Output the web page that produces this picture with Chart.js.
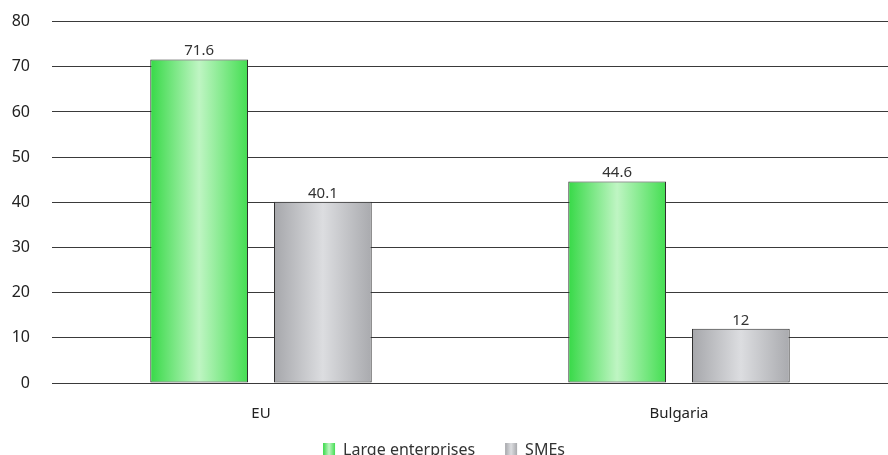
<!DOCTYPE html>
<html>
<head>
<meta charset="utf-8">
<script src="https://cdn.jsdelivr.net/npm/chart.js@4.4.0/dist/chart.umd.min.js"></script>
<style>
  html, body { margin: 0; padding: 0; background: #fff; overflow: hidden; }
  #wrap { width: 888px; height: 455px; overflow: hidden; }
  #myChart { display: block; margin-top: -10px; }
</style>
</head>
<body>
<div id="wrap"><canvas id="myChart" width="888" height="478"></canvas></div>
<script>
var categories = ["EU", "Bulgaria"];
var seriesNames = ["Large enterprises", "SMEs"];
var largeValues = [71.6, 44.6];
var smeValues = [40.1, 12];
var yTicks = [0, 10, 20, 30, 40, 50, 60, 70, 80];

var FONT = "'Noto Sans', 'Open Sans', sans-serif";
var greenStops = ["#37d947", "#bff5c3", "#44de52"];
var grayStops = ["#a6a7ab", "#dcdde0", "#a9aaae"];

function makeGradient(ctx, x0, x1, stops) {
  var g = ctx.createLinearGradient(x0, 0, x1, 0);
  g.addColorStop(0, stops[0]);
  g.addColorStop(0.5, stops[1]);
  g.addColorStop(1, stops[2]);
  return g;
}

// paint each bar with a horizontal gradient based on where the scale put it
var gradientBars = {
  id: "gradientBars",
  beforeDatasetsDraw: function(chart) {
    var ctx = chart.ctx;
    chart.data.datasets.forEach(function(ds, i) {
      var meta = chart.getDatasetMeta(i);
      var stops = i === 0 ? greenStops : grayStops;
      meta.data.forEach(function(el) {
        var p = el.getProps(["x", "width"], true);
        el.options.backgroundColor = makeGradient(ctx, p.x - p.width / 2, p.x + p.width / 2, stops);
      });
    });
  },
  // legend boxes get the same gradient, drawn where the legend put them
  afterDraw: function(chart) {
    var lg = chart.legend;
    if (!lg || !lg.legendHitBoxes) return;
    var ctx = chart.ctx;
    var bw = lg.options.labels.boxWidth, bh = lg.options.labels.boxHeight;
    lg.legendHitBoxes.forEach(function(hb, i) {
      var stops = i === 0 ? greenStops : grayStops;
      var y = hb.top + hb.height / 2 - bh / 2;
      ctx.save();
      ctx.fillStyle = makeGradient(ctx, hb.left, hb.left + bw, stops);
      ctx.fillRect(hb.left, y, bw, bh);
      ctx.restore();
    });
  }
};

// value labels on top of the bars
var valueLabels = {
  id: "valueLabels",
  afterDatasetsDraw: function(chart) {
    var ctx = chart.ctx;
    ctx.save();
    ctx.font = "15px " + FONT;
    ctx.fillStyle = "#333";
    ctx.textAlign = "center";
    ctx.textBaseline = "bottom";
    chart.data.datasets.forEach(function(ds, i) {
      var meta = chart.getDatasetMeta(i);
      meta.data.forEach(function(el, j) {
        ctx.fillText(String(ds.data[j]), el.x, el.y - 1);
      });
    });
    ctx.restore();
  }
};

var ctx = document.getElementById("myChart").getContext("2d");
var chart = new Chart(ctx, {
  type: "bar",
  data: {
    labels: categories,
    datasets: [{
      label: seriesNames[0],
      data: largeValues,
      // scriptable so each bar gets its own options object
      backgroundColor: function() { return greenStops[1]; },
      borderColor: "#2f2f2f",
      borderWidth: 1,
      borderSkipped: false,
      categoryPercentage: 0.592,
      barPercentage: 0.79
    }, {
      label: seriesNames[1],
      data: smeValues,
      backgroundColor: function() { return grayStops[1]; },
      borderColor: "#2f2f2f",
      borderWidth: 1,
      borderSkipped: false,
      categoryPercentage: 0.592,
      barPercentage: 0.79
    }]
  },
  options: {
    responsive: false,
    animation: false,
    layout: { padding: { top: 2, left: 0, right: 0, bottom: 0 } },
    plugins: {
      tooltip: { enabled: false },
      legend: {
        position: "bottom",
        labels: {
          color: "#333",
          font: { size: 16, family: FONT },
          boxWidth: 12,
          boxHeight: 14,
          padding: 5,
          generateLabels: function(chart) {
            return chart.data.datasets.map(function(ds, i) {
              // trailing spaces widen the gap between the two items
              return {
                text: i === 0 ? ds.label + "      " : ds.label,
                fillStyle: "#fff",
                strokeStyle: "rgba(0,0,0,0)",
                lineWidth: 0,
                datasetIndex: i,
                fontColor: "#333"
              };
            });
          }
        }
      }
    },
    scales: {
      x: {
        grid: { display: false },
        border: { display: false },
        ticks: { color: "#222", font: { size: 15, family: FONT }, padding: 14 }
      },
      y: {
        min: 0,
        max: 80,
        afterBuildTicks: function(axis) {
          axis.ticks = yTicks.map(function(v) { return { value: v }; });
        },
        afterFit: function(axis) { axis.width = 52; },
        grid: { color: "#3a3a3a", lineWidth: 1, drawTicks: false },
        border: { display: false },
        ticks: { color: "#222", font: { size: 16, family: FONT }, padding: 22 }
      }
    }
  },
  plugins: [gradientBars, valueLabels]
});
</script>
</body>
</html>
